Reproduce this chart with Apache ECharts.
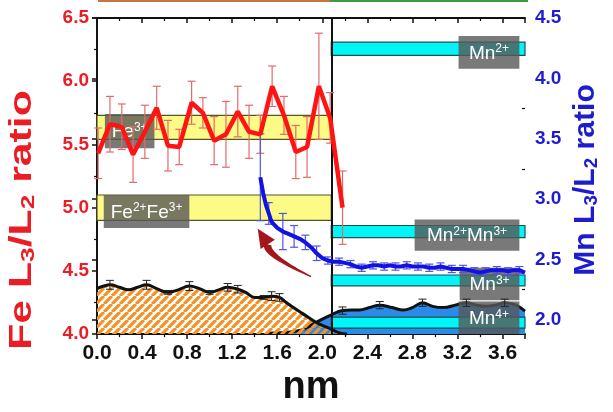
<!DOCTYPE html>
<html><head><meta charset="utf-8">
<script src="https://cdn.jsdelivr.net/npm/echarts@6/dist/echarts.min.js"></script>
<style>html,body{margin:0;padding:0;background:#fff}#c{width:613px;height:412px}</style>
</head><body><div id="c"></div>
<script>
// ---------------- data ----------------
const xTickLabels = [0.0,0.4,0.8,1.2,1.6,2.0,2.4,2.8,3.2,3.6];
const leftTicks = [4.0,4.5,5.0,5.5,6.0,6.5];
const rightTicks = [2.0,2.5,3.0,3.5,4.0,4.5];
const rightMinorTicks = [2.25,2.75,3.25,3.75,4.25];

// Fe L3/L2 ratio (left axis)
const feDist  = [0.01,0.115,0.22,0.32,0.425,0.53,0.63,0.73,0.84,0.94,1.04,1.145,1.25,1.35,1.45,1.555,1.66,1.765,1.865,1.97,2.07,2.18];
const feRatio = [5.43,5.66,5.64,5.42,5.60,5.79,5.49,5.48,5.83,5.75,5.53,5.58,5.76,5.60,5.58,5.96,5.73,5.44,5.48,5.96,5.71,5.00];
const feErr   = [0.20,0.22,0.18,0.22,0.21,0.17,0.20,0.14,0.17,0.12,0.19,0.26,0.20,0.21,0.15,0.16,0.15,0.21,0.24,0.42,0.20,0.29];

// Mn L3/L2 ratio (right axis)
const mnDist  = [1.45,1.475,1.50,1.525,1.55,1.60,1.65,1.70,1.75,1.80,1.85,1.90,1.95,2.00,2.05,2.10,2.15,2.20,2.25,2.30,2.35,2.40,2.45,2.50,2.55,2.60,2.65,2.70,2.75,2.80,2.85,2.90,2.95,3.00,3.05,3.10,3.15,3.20,3.25,3.30,3.35,3.40,3.45,3.50,3.55,3.60,3.65,3.70,3.75,3.80];
const mnRatio = [3.18,3.05,2.95,2.88,2.81,2.76,2.73,2.71,2.69,2.67,2.64,2.60,2.55,2.51,2.49,2.48,2.48,2.47,2.46,2.44,2.43,2.44,2.45,2.45,2.44,2.45,2.44,2.44,2.45,2.44,2.44,2.44,2.43,2.43,2.44,2.43,2.42,2.42,2.42,2.41,2.40,2.39,2.40,2.41,2.41,2.41,2.40,2.41,2.41,2.39];
const mnErr   = [0.36,0,0,0.09,0,0,0.15,0,0.09,0,0.06,0,0.06,0,0.03,0,0.03,0,0.03,0,0.03,0,0.03,0,0.03,0,0.03,0,0.03,0,0.03,0,0.03,0,0.03,0,0.03,0,0.03,0,0.03,0,0.03,0,0.03,0,0.03,0,0.03,0];

// Fe signal profile (left axis, hatched)
const feProfDist = [0.0,0.06,0.115,0.2,0.28,0.36,0.44,0.53,0.63,0.72,0.82,0.91,1.0,1.08,1.16,1.25,1.32,1.40,1.48,1.55,1.62,1.68,1.76,1.83,1.95,2.08,2.15,2.22];
const feProfVal  = [4.36,4.38,4.39,4.37,4.35,4.37,4.39,4.36,4.33,4.35,4.38,4.36,4.33,4.35,4.37,4.355,4.33,4.29,4.29,4.30,4.29,4.25,4.20,4.16,4.09,4.04,4.01,4.0];
const feProfErr  = [0,0,0.035,0,0,0,0.035,0,0.015,0,0.035,0,0.015,0,0.03,0.03,0,0,0.015,0.035,0.03,0,0,0,0,0,0,0];

// Mn signal profile (right axis, filled)
const mnProfDist = [1.5,1.6,1.7,1.77,1.83,1.95,2.08,2.18,2.26,2.33,2.42,2.51,2.62,2.72,2.8,2.89,2.98,3.08,3.18,3.28,3.37,3.45,3.54,3.62,3.72,3.8];
const mnProfVal  = [1.885,1.89,1.895,1.905,1.92,1.98,2.04,2.075,2.08,2.08,2.10,2.12,2.10,2.08,2.10,2.14,2.11,2.10,2.12,2.14,2.12,2.11,2.12,2.14,2.12,2.07];
const mnProfErr  = [0,0,0,0,0,0,0,0.03,0,0,0,0.03,0,0,0,0.03,0,0,0,0.03,0,0,0,0.03,0,0];

// reference bands
const interfaceX = 2.08;
const feBandNames = ['Fe3+','Fe2+Fe3+'];
const feBandLo = [5.54,4.90];
const feBandHi = [5.73,5.10];
const mnBandNames = ['Mn2+','Mn2+Mn3+','Mn3+','Mn4+'];
const mnBandLo = [4.19,2.68,2.28,1.93];
const mnBandHi = [4.30,2.78,2.37,2.02];

// arrow (start, control, end, tip) in nm / left-axis units
const arrowDist = [1.90,1.49,1.516,1.427];
const arrowVal  = [4.455,4.63,4.710,4.833];

// ---------------- layout (label boxes, data coords) ----------------
const feBoxes = [
  {text:'{b|Fe}{s|3+}', x0:0.07, x1:0.51, y0:5.47, y1:5.74},
  {text:'{b|Fe}{s|2+}{b|Fe}{s|3+}', x0:0.06, x1:0.82, y0:4.84, y1:5.10}
];
const mnBoxes = [
  {text:'{b|Mn}{s|2+}', x0:3.21, x1:3.75, y0:4.08, y1:4.35},
  {text:'{b|Mn}{s|2+}{b|Mn}{s|3+}', x0:2.82, x1:3.75, y0:2.57, y1:2.83},
  {text:'{b|Mn}{s|3+}', x0:3.22, x1:3.75, y0:2.16, y1:2.43},
  {text:'{b|Mn}{s|4+}', x0:3.21, x1:3.75, y0:1.88, y1:2.15}
];

const FONT = "'Liberation Sans', Arial, sans-serif";
const RED = '#ec1c24', BLUE = '#1d1dcf';
const X_MAX = 3.8, L_MIN = 4.0, L_MAX = 6.5, R_MIN = 1.88, R_MAX = 4.5;

function hatchCanvas() {
  const c = document.createElement('canvas');
  c.width = 8; c.height = 8;
  const g = c.getContext('2d');
  g.strokeStyle = '#f4922a';
  g.lineWidth = 3.2;
  g.beginPath();
  for (let k = -8; k <= 8; k += 8) { g.moveTo(k, 8); g.lineTo(k + 8, 0); }
  g.stroke();
  return c;
}

function errRender(color, half, width) {
  return function (params, api) {
    const x = api.value(0), lo = api.value(1), hi = api.value(2);
    if (hi - lo <= 0) return null;
    const a = api.coord([x, hi]), b = api.coord([x, lo]);
    const st = {stroke: color, lineWidth: width};
    return {type: 'group', children: [
      {type: 'line', shape: {x1: a[0], y1: a[1], x2: b[0], y2: b[1]}, style: st},
      {type: 'line', shape: {x1: a[0]-half, y1: a[1], x2: a[0]+half, y2: a[1]}, style: st},
      {type: 'line', shape: {x1: b[0]-half, y1: b[1], x2: b[0]+half, y2: b[1]}, style: st}
    ]};
  };
}
function errData(xs, ys, es) {
  return xs.map((x, i) => [x, ys[i] - es[i], ys[i] + es[i]]);
}

function bandRender(fill, border) {
  return function (params, api) {
    const p0 = api.coord([api.value(0), api.value(3)]);
    const p1 = api.coord([api.value(1), api.value(2)]);
    return {type: 'rect', shape: {x: p0[0], y: p0[1], width: p1[0]-p0[0], height: p1[1]-p0[1]},
      style: {fill: fill, stroke: border, lineWidth: 1.2}};
  };
}
function boxRender(boxes) {
  return function (params, api) {
    const b = boxes[params.dataIndex];
    const p0 = api.coord([api.value(0), api.value(3)]);
    const p1 = api.coord([api.value(1), api.value(2)]);
    return {type: 'group', children: [
      {type: 'rect', shape: {x: p0[0], y: p0[1], width: p1[0]-p0[0], height: p1[1]-p0[1]},
        style: {fill: 'rgba(88,88,88,0.8)'}},
      {type: 'text', x: (p0[0]+p1[0])/2, y: (p0[1]+p1[1])/2 + 1,
        style: {text: b.text, align: 'center', verticalAlign: 'middle',
          rich: {b: {fontSize: 19, fontFamily: FONT, fill: '#fff'},
                 s: {fontSize: 12, fontFamily: FONT, fill: '#fff', padding: [0,0,9,0]}}}}
    ]};
  };
}

function arrowRender(params, api) {
  const P0 = api.coord([arrowDist[0], arrowVal[0]]);
  const C  = api.coord([arrowDist[1], arrowVal[1]]);
  const P2 = api.coord([arrowDist[2], arrowVal[2]]);
  const T  = api.coord([arrowDist[3], arrowVal[3]]);
  const left = [], right = [];
  const N = 24;
  for (let i = 0; i <= N; i++) {
    const t = i / N;
    const x = (1-t)*(1-t)*P0[0] + 2*(1-t)*t*C[0] + t*t*P2[0];
    const y = (1-t)*(1-t)*P0[1] + 2*(1-t)*t*C[1] + t*t*P2[1];
    let dx = 2*(1-t)*(C[0]-P0[0]) + 2*t*(P2[0]-C[0]);
    let dy = 2*(1-t)*(C[1]-P0[1]) + 2*t*(P2[1]-C[1]);
    const L = Math.hypot(dx, dy) || 1; dx /= L; dy /= L;
    const w = (0.7 + 3.5 * t);
    left.push([x - dy*w, y + dx*w]);
    right.push([x + dy*w, y - dx*w]);
  }
  const body = left.concat(right.reverse());
  let ux = T[0]-P2[0], uy = T[1]-P2[1];
  const ul = Math.hypot(ux, uy) || 1; ux /= ul; uy /= ul;
  const hw = 8.5;
  const head = [T, [P2[0] - uy*hw, P2[1] + ux*hw], [P2[0] + uy*hw, P2[1] - ux*hw]];
  return {type: 'group', children: [
    {type: 'polygon', shape: {points: body}, style: {fill: '#a5161c'}},
    {type: 'polygon', shape: {points: head}, style: {fill: '#a5161c'}}
  ]};
}

const chart = echarts.init(document.getElementById('c'), null, {renderer: 'canvas'});
const axisLineStyle = {color: '#111', width: 1.8};

const option = {
  animation: false,
  backgroundColor: '#fff',
  grid: {left: 97, right: 88, top: 18, bottom: 70},
  xAxis: [
    {type: 'value', position: 'bottom', min: 0, max: X_MAX, interval: 0.4,
      axisLine: {show: true, lineStyle: axisLineStyle},
      axisTick: {show: true, inside: false, length: 5, lineStyle: {color: '#111', width: 1.5}},
      minorTick: {show: true, splitNumber: 2, length: 3, lineStyle: {color: '#111', width: 1.2}},
      splitLine: {show: false},
      axisLabel: {show: true, margin: 9, showMaxLabel: false, color: '#111', fontSize: 21, fontWeight: 'bold', fontFamily: FONT,
        formatter: v => (xTickLabels.some(t => Math.abs(t - v) < 1e-6) ? v.toFixed(1) : '')},
      name: 'nm', nameLocation: 'middle', nameGap: 33,
      nameTextStyle: {fontSize: 38, fontWeight: 'bold', color: '#111', fontFamily: FONT}},
    {type: 'value', position: 'top', min: 0, max: X_MAX, interval: 0.4,
      axisLine: {show: true, lineStyle: axisLineStyle},
      axisTick: {show: true, inside: true, length: 5, lineStyle: {color: '#111', width: 1.5}},
      minorTick: {show: true, splitNumber: 2, length: 3, lineStyle: {color: '#111', width: 1.2}},
      splitLine: {show: false}, axisLabel: {show: false}}
  ],
  yAxis: [
    {type: 'value', position: 'left', min: L_MIN, max: L_MAX, interval: 0.5,
      axisLine: {show: true, lineStyle: axisLineStyle},
      axisTick: {show: true, inside: false, length: 5, lineStyle: {color: '#111', width: 1.5}},
      minorTick: {show: true, splitNumber: 2, length: 3, lineStyle: {color: '#111', width: 1.2}},
      splitLine: {show: false},
      axisLabel: {margin: 8, color: RED, fontSize: 19, fontWeight: 'bold', fontFamily: FONT,
        formatter: v => v.toFixed(1)}},
    {type: 'value', position: 'right', min: R_MIN, max: R_MAX,
      axisLine: {show: true, lineStyle: axisLineStyle},
      axisTick: {show: true, inside: true, length: 5, customValues: rightTicks, lineStyle: {color: '#111', width: 1.5}},
      splitLine: {show: false},
      axisLabel: {margin: 10, customValues: rightTicks, color: BLUE, fontSize: 19, fontWeight: 'bold', fontFamily: FONT,
        formatter: v => v.toFixed(1)}},
    {type: 'value', position: 'right', min: R_MIN, max: R_MAX,
      axisLine: {show: false},
      axisTick: {show: true, inside: true, length: 3, customValues: rightMinorTicks, lineStyle: {color: '#111', width: 1.2}},
      splitLine: {show: false}, axisLabel: {show: false}}
  ],
  graphic: [
    {type: 'rect', left: 98, top: 0, shape: {width: 232, height: 2}, style: {fill: '#c4763c'}, silent: true},
    {type: 'rect', left: 330, top: 0, shape: {width: 198, height: 2}, style: {fill: '#3f9b42'}, silent: true},
    {type: 'text', x: 22, y: 220, rotation: Math.PI/2, scaleX: 1.38, scaleY: 1,
      style: {text: '{t|Fe L}{s|3}{t|/L}{s|2}{t| ratio}', align: 'center', verticalAlign: 'middle',
        rich: {t: {fontSize: 31, fontWeight: 'bold', fontFamily: FONT, fill: RED},
               s: {fontSize: 19, fontWeight: 'bold', fontFamily: FONT, fill: RED, padding: [14,0,0,0]}}}},
    {type: 'text', x: 586, y: 180, rotation: Math.PI/2, scaleX: 1.04, scaleY: 1,
      style: {text: '{t|Mn L}{s|3}{t|/L}{s|2}{t| ratio}', align: 'center', verticalAlign: 'middle',
        rich: {t: {fontSize: 29, fontWeight: 'bold', fontFamily: FONT, fill: BLUE},
               s: {fontSize: 18, fontWeight: 'bold', fontFamily: FONT, fill: BLUE, padding: [13,0,0,0]}}}}
  ],
  series: [
    {type: 'line', xAxisIndex: 0, yAxisIndex: 1, z: 1, smooth: 0.4, symbol: 'none',
      data: mnProfDist.map((x, i) => [x, mnProfVal[i]]),
      lineStyle: {color: '#111', width: 3},
      areaStyle: {color: '#2a8be8', opacity: 1, origin: 'start'}},
    {type: 'line', xAxisIndex: 0, yAxisIndex: 0, z: 2, smooth: 0.4, symbol: 'none',
      data: feProfDist.map((x, i) => [x, feProfVal[i]]),
      lineStyle: {color: '#111', width: 3},
      areaStyle: {color: {image: hatchCanvas(), repeat: 'repeat'}, opacity: 1, origin: 'start'}},
    {type: 'custom', xAxisIndex: 0, yAxisIndex: 0, z: 3, encode: {x: [0,1], y: [2,3]},
      renderItem: bandRender('#fbfb86', '#55552a'),
      data: feBandLo.map((lo, i) => [0, interfaceX, lo, feBandHi[i]])},
    {type: 'custom', xAxisIndex: 0, yAxisIndex: 1, z: 3, encode: {x: [0,1], y: [2,3]},
      renderItem: bandRender('#00f6f6', '#1d4f4f'),
      data: mnBandLo.map((lo, i) => [interfaceX, X_MAX, lo, mnBandHi[i]])},
    {type: 'custom', xAxisIndex: 0, yAxisIndex: 0, z: 4, encode: {x: [0,1], y: [2,3]},
      renderItem: boxRender(feBoxes),
      data: feBoxes.map(b => [b.x0, b.x1, b.y0, b.y1])},
    {type: 'custom', xAxisIndex: 0, yAxisIndex: 1, z: 4, encode: {x: [0,1], y: [2,3]},
      renderItem: boxRender(mnBoxes),
      data: mnBoxes.map(b => [b.x0, b.x1, b.y0, b.y1])},
    {type: 'custom', xAxisIndex: 0, yAxisIndex: 0, z: 5, encode: {x: 0, y: [1,2]},
      renderItem: errRender('#222', 4, 1), data: errData(feProfDist, feProfVal, feProfErr)},
    {type: 'custom', xAxisIndex: 0, yAxisIndex: 1, z: 5, encode: {x: 0, y: [1,2]},
      renderItem: errRender('#222', 4, 1), data: errData(mnProfDist, mnProfVal, mnProfErr)},
    {type: 'custom', xAxisIndex: 0, yAxisIndex: 0, z: 5, encode: {x: 0, y: [1,2]},
      renderItem: errRender('#e46a6a', 4, 1.2), data: errData(feDist, feRatio, feErr)},
    {type: 'custom', xAxisIndex: 0, yAxisIndex: 1, z: 5, encode: {x: 0, y: [1,2]},
      renderItem: errRender('#5454dc', 4, 1.2), data: errData(mnDist, mnRatio, mnErr)},
    {type: 'line', xAxisIndex: 0, yAxisIndex: 0, z: 6, symbol: 'none',
      data: feDist.map((x, i) => [x, feRatio[i]]),
      lineStyle: {color: '#ff1414', width: 4.5},
      markLine: {silent: true, symbol: 'none', label: {show: false},
        lineStyle: {color: '#111', width: 2, type: 'solid'},
        data: [{xAxis: interfaceX}]}},
    {type: 'line', xAxisIndex: 0, yAxisIndex: 1, z: 6, symbol: 'none',
      data: mnDist.map((x, i) => [x, mnRatio[i]]),
      lineStyle: {color: '#1212e6', width: 4}},
    {type: 'custom', xAxisIndex: 0, yAxisIndex: 0, z: 7, renderItem: arrowRender, data: [[arrowDist[0], arrowVal[0]]]}
  ]
};
chart.setOption(option);
</script>
</body></html>
